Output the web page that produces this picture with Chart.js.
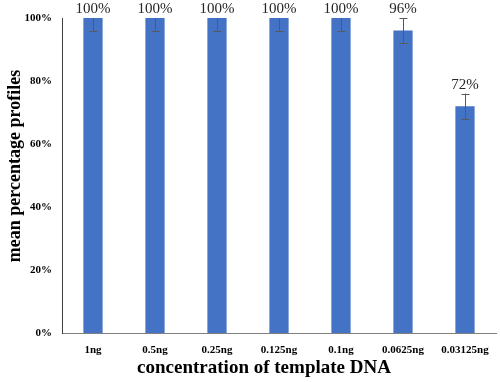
<!DOCTYPE html>
<html><head><meta charset="utf-8">
<script src="https://cdn.jsdelivr.net/npm/chart.js@4/dist/chart.umd.min.js"></script>
<style>html,body{margin:0;padding:0;background:#fff}#w{width:500px;height:382px}</style>
</head><body><div id="w"><canvas id="c"></canvas></div>
<script>
const categories = ['1ng','0.5ng','0.25ng','0.125ng','0.1ng','0.0625ng','0.03125ng'];
const values = [100,100,100,100,100,96,72];
const errors = [4,4,4,4,4,4,4];
const yTicks = [0,20,40,60,80,100];
const xTitle = 'concentration of template DNA';
const yTitle = 'mean percentage profiles';

const errorBars = {
  id:'errorBars',
  afterDatasetsDraw(chart){
    const ctx = chart.ctx, y = chart.scales.y, meta = chart.getDatasetMeta(0), a = chart.chartArea;
    ctx.save();
    ctx.beginPath(); ctx.rect(a.left, a.top, a.right-a.left, a.bottom-a.top); ctx.clip();
    ctx.strokeStyle = '#595959'; ctx.lineWidth = 1;
    meta.data.forEach((bar,i)=>{
      const x = Math.round(bar.x)+0.5;
      const y1 = y.getPixelForValue(values[i]+errors[i]);
      const y2 = y.getPixelForValue(values[i]-errors[i]);
      ctx.beginPath();
      ctx.moveTo(x,y1); ctx.lineTo(x,y2);
      ctx.moveTo(x-4,Math.round(y1)+0.5); ctx.lineTo(x+4,Math.round(y1)+0.5);
      ctx.moveTo(x-4,Math.round(y2)+0.5); ctx.lineTo(x+4,Math.round(y2)+0.5);
      ctx.stroke();
    });
    ctx.restore();
    ctx.save();
    ctx.fillStyle = '#262626';
    ctx.font = '15px "Liberation Serif"';
    ctx.textAlign = 'center'; ctx.textBaseline = 'bottom';
    meta.data.forEach((bar,i)=>{
      const top = values[i] >= 100 ? bar.y : y.getPixelForValue(values[i]+errors[i]);
      ctx.fillText(values[i]+'%', bar.x, top - 1);
    });
    ctx.restore();
  },
  afterDraw(chart){
    const ctx = chart.ctx;
    ctx.save();
    ctx.fillStyle = '#000';
    ctx.font = 'bold 19px "Liberation Serif"';
    ctx.textAlign = 'center'; ctx.textBaseline = 'middle';
    ctx.fillText(xTitle, 264, 368);
    ctx.translate(15, 166);
    ctx.rotate(-Math.PI/2);
    ctx.font = 'bold 18px "Liberation Serif"';
    ctx.fillText(yTitle, 0, 0);
    ctx.restore();
  }
};

new Chart(document.getElementById('c'), {
  type:'bar',
  data:{labels:categories, datasets:[{data:values, backgroundColor:'#4472C4', borderWidth:0, categoryPercentage:1, barPercentage:0.31}]},
  options:{
    responsive:true, maintainAspectRatio:false, animation:false,
    layout:{padding:{top:18,right:4,left:0,bottom:0}},
    plugins:{legend:{display:false}, tooltip:{enabled:false}},
    scales:{
      x:{
        grid:{display:false, drawTicks:false},
        border:{color:'#808080'},
        ticks:{color:'#000', font:{family:'Liberation Serif', weight:'bold', size:11}, padding:11, maxRotation:0, autoSkip:false},
        afterFit(s){ s.height = 49; }
      },
      y:{
        min:0, max:100,
        afterBuildTicks(s){ s.ticks = yTicks.map(v=>({value:v})); },
        grid:{display:false, drawTicks:false},
        border:{color:'#404040'},
        ticks:{color:'#000', font:{family:'Liberation Serif', weight:'bold', size:11}, padding:10, callback:v=>v+'%'},
        afterFit(s){ s.width = 62; }
      }
    }
  },
  plugins:[errorBars]
});
</script>
</body></html>
